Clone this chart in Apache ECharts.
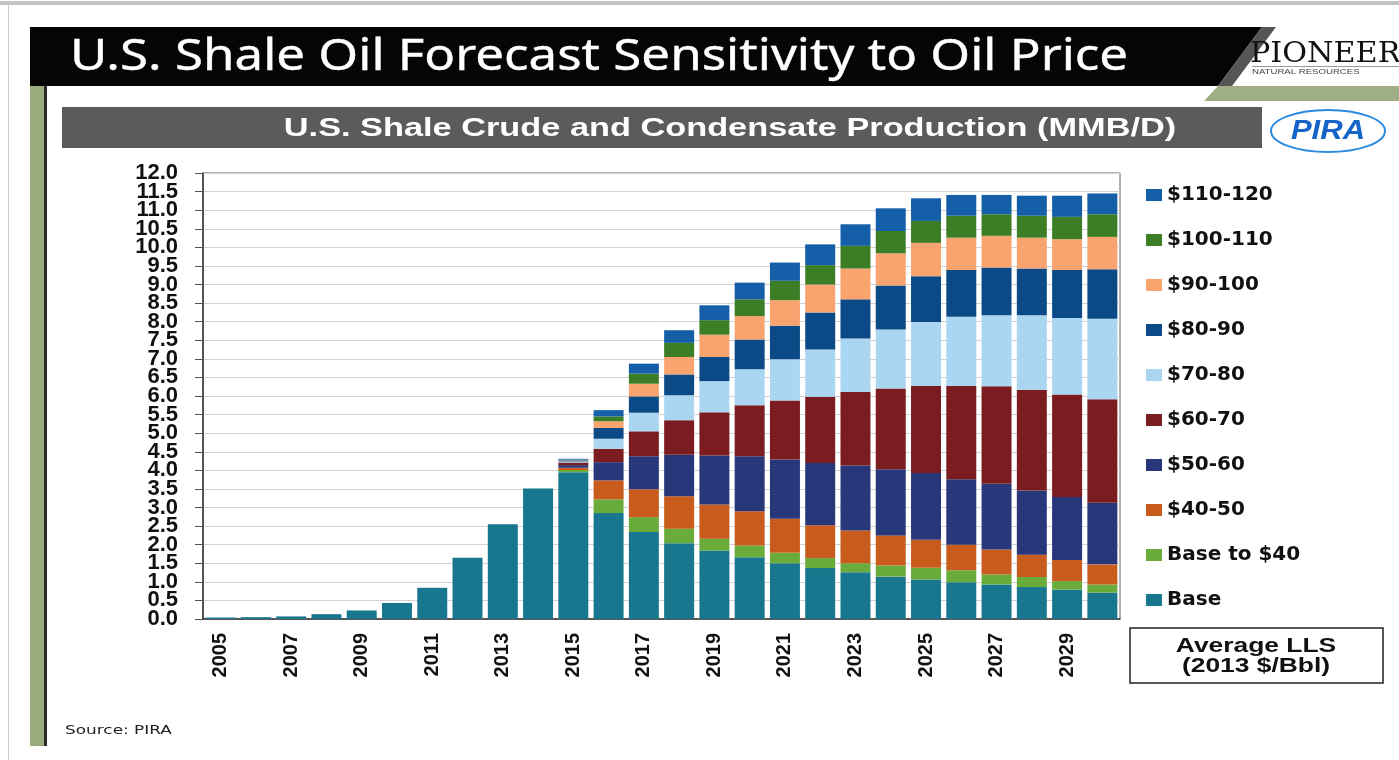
<!DOCTYPE html>
<html>
<head>
<meta charset="utf-8">
<title>U.S. Shale Oil Forecast Sensitivity to Oil Price</title>
<script src="https://cdn.jsdelivr.net/npm/echarts@6/dist/echarts.min.js"></script>
<style>
  html, body { margin: 0; padding: 0; background: #fff; }
  #main { width: 1399px; height: 760px; }
</style>
</head>
<body>
<div id="main"></div>
<script>
// years on the x axis
var years = ['2005','2006','2007','2008','2009','2010','2011','2012','2013','2014','2015','2016','2017',
             '2018','2019','2020','2021','2022','2023','2024','2025','2026','2027','2028','2029','2030'];

// y tick labels, 0 to 12 by 0.5
var yTickLabels = ['0.0','0.5','1.0','1.5','2.0','2.5','3.0','3.5','4.0','4.5','5.0','5.5','6.0',
                   '6.5','7.0','7.5','8.0','8.5','9.0','9.5','10.0','10.5','11.0','11.5','12.0'];

// production by price band, MMB/D
var base      = [0.04,0.05,0.07,0.13,0.23,0.43,0.84,1.65,2.55,3.51,3.95,2.85,2.34,2.04,1.84,1.66,1.50,1.37,1.26,1.14,1.06,0.99,0.93,0.86,0.79,0.71];
var baseTo40  = [0,0,0,0,0,0,0,0,0,0,0.06,0.37,0.40,0.39,0.32,0.32,0.28,0.27,0.24,0.30,0.32,0.32,0.27,0.27,0.23,0.22];
var p40to50   = [0,0,0,0,0,0,0,0,0,0,0.06,0.51,0.75,0.87,0.92,0.92,0.92,0.88,0.88,0.81,0.75,0.69,0.67,0.60,0.57,0.54];
var p50to60   = [0,0,0,0,0,0,0,0,0,0,0.07,0.49,0.89,1.12,1.32,1.48,1.59,1.68,1.75,1.78,1.80,1.76,1.77,1.73,1.69,1.66];
var p60to70   = [0,0,0,0,0,0,0,0,0,0,0.07,0.36,0.67,0.93,1.16,1.37,1.59,1.78,1.98,2.17,2.34,2.51,2.62,2.71,2.76,2.78];
var p70to80   = [0,0,0,0,0,0,0,0,0,0,0.03,0.27,0.50,0.67,0.84,0.97,1.11,1.27,1.44,1.59,1.72,1.86,1.91,2.00,2.06,2.17];
var p80to90   = [0,0,0,0,0,0,0,0,0,0,0.03,0.29,0.44,0.56,0.65,0.80,0.90,1.00,1.05,1.18,1.23,1.26,1.29,1.26,1.29,1.33];
var p90to100  = [0,0,0,0,0,0,0,0,0,0,0.01,0.18,0.34,0.47,0.60,0.63,0.69,0.75,0.83,0.87,0.90,0.87,0.85,0.83,0.83,0.87];
var p100to110 = [0,0,0,0,0,0,0,0,0,0,0.01,0.13,0.27,0.38,0.39,0.45,0.52,0.52,0.61,0.60,0.59,0.59,0.58,0.59,0.60,0.61];
var p110to120 = [0,0,0,0,0,0,0,0,0,0,0.02,0.17,0.27,0.34,0.40,0.45,0.49,0.56,0.58,0.61,0.61,0.56,0.52,0.54,0.57,0.56];

// bottom to top
var bands = [
  { name: 'Base',          data: base,      color: '#18778f' },
  { name: 'Base to $40',   data: baseTo40,  color: '#6aac3b' },
  { name: '$40-50',        data: p40to50,   color: '#c95b1c' },
  { name: '$50-60',        data: p50to60,   color: '#28367a' },
  { name: '$60-70',        data: p60to70,   color: '#7b1c20' },
  { name: '$70-80',        data: p70to80,   color: '#abd6f2' },
  { name: '$80-90',        data: p80to90,   color: '#0c4a87' },
  { name: '$90-100',       data: p90to100,  color: '#f9a36f' },
  { name: '$100-110',      data: p100to110, color: '#3c7e26' },
  { name: '$110-120',      data: p110to120, color: '#155fa8' }
];

var myChart = echarts.init(document.getElementById('main'));

var series = bands.map(function (b) {
  return {
    name: b.name,
    type: 'bar',
    stack: 'total',
    yAxisIndex: 0,
    barCategoryGap: '15%',
    itemStyle: { color: b.color },
    data: b.data
  };
});

myChart.setOption({
  animation: false,
  backgroundColor: '#fff',
  grid: { left: 203, right: 279, top: 173, bottom: 141, show: true, borderColor: '#666', borderWidth: 1 },
  legend: {
    orient: 'vertical',
    left: 1141,
    top: 180,
    itemWidth: 16,
    itemHeight: 12,
    itemGap: 25,
    icon: 'rect',
    data: bands.map(function (b) { return b.name; }).reverse(),
    textStyle: { fontFamily: 'DejaVu Sans', fontWeight: 'bold', fontSize: 20, color: '#111', lineHeight: 20 }
  },
  xAxis: {
    type: 'category',
    data: years,
    axisLine: { lineStyle: { color: '#333', width: 1.5 } },
    axisTick: { interval: 0, length: 5, lineStyle: { color: '#777' } },
    axisLabel: {
      interval: 1,
      rotate: 90,
      margin: 14,
      fontFamily: 'Liberation Sans',
      fontWeight: 'bold',
      fontSize: 20,
      color: '#111'
    }
  },
  yAxis: [
    {
      // value scale for the bars
      type: 'value',
      min: 0,
      max: 12,
      interval: 0.5,
      axisLine: { show: true, lineStyle: { color: '#333', width: 1.5 } },
      axisTick: { show: true, length: 8, lineStyle: { color: '#555' } },
      splitLine: { lineStyle: { color: '#d2d2d2' } },
      axisLabel: { show: false }
    },
    {
      // tick labels only, every 0.5 (all shown, tightly packed like the original)
      type: 'category',
      position: 'left',
      boundaryGap: false,
      data: yTickLabels,
      axisLine: { show: false },
      axisTick: { show: false },
      splitLine: { show: false },
      axisLabel: {
        interval: 0,
        margin: 25,
        fontFamily: 'Liberation Sans',
        fontWeight: 'bold',
        fontSize: 22,
        color: '#111'
      }
    }
  ],
  series: series,
  graphic: [
    // page frame bits
    { type: 'rect', shape: { x: 0, y: 1, width: 1399, height: 4 }, style: { fill: '#c4c4c4' } },
    { type: 'rect', shape: { x: 8, y: 5, width: 1, height: 755 }, style: { fill: '#d0d0d0' } },
    // black title banner
    { type: 'polygon', shape: { points: [[30, 27], [1262, 27], [1218, 86], [30, 86]] }, style: { fill: '#050505' } },
    { type: 'polygon', shape: { points: [[1262, 27], [1276, 27], [1232, 86], [1218, 86]] }, style: { fill: '#555' } },
    { type: 'polygon', shape: { points: [[1218, 86], [1399, 86], [1399, 101], [1204, 101]] }, style: { fill: '#9fae84' } },
    { type: 'text', x: 70, y: 57, scaleX: 1.16, style: { text: 'U.S. Shale Oil Forecast Sensitivity to Oil Price', fill: '#fff',
      stroke: '#fff', lineWidth: 0.4, font: '44px "Noto Sans"', textVerticalAlign: 'middle' } },
    // left olive bar
    { type: 'rect', shape: { x: 30, y: 86, width: 14, height: 660 }, style: { fill: '#9aab7c' } },
    { type: 'rect', shape: { x: 44, y: 86, width: 3, height: 660 }, style: { fill: '#2a2a2a' } },
    // subtitle banner
    { type: 'rect', shape: { x: 62, y: 107, width: 1200, height: 41 }, style: { fill: '#5b5b5b' } },
    { type: 'text', x: 730, y: 129, scaleX: 1.32, style: { text: 'U.S. Shale Crude and Condensate Production (MMB/D)', fill: '#fff',
      font: 'bold 26px "Liberation Sans"', textAlign: 'center', textVerticalAlign: 'middle' } },
    // Pioneer logo
    { type: 'text', x: 1250, y: 55, scaleX: 1.12, style: { text: 'PIONEER', fill: '#111', font: '27px "DejaVu Serif"', textVerticalAlign: 'middle' } },
    { type: 'rect', shape: { x: 1252, y: 66, width: 147, height: 1 }, style: { fill: '#999' } },
    { type: 'text', x: 1252, y: 72, scaleX: 1.2, style: { text: 'NATURAL RESOURCES', fill: '#444', font: '8px "Liberation Sans"', textVerticalAlign: 'middle' } },
    // PIRA logo
    { type: 'ellipse', shape: { cx: 1328, cy: 131, rx: 57, ry: 21 }, style: { fill: '#fff', stroke: '#2a8be0', lineWidth: 2 } },
    { type: 'text', x: 1328, y: 132, scaleX: 1.15, style: { text: 'PIRA', fill: '#1565c8', font: 'italic bold 27px "Liberation Sans"',
      textAlign: 'center', textVerticalAlign: 'middle' } },
    // legend caption box
    { type: 'rect', shape: { x: 1130, y: 628, width: 253, height: 55 }, style: { fill: '#fff', stroke: '#222', lineWidth: 1.5 } },
    { type: 'text', x: 1256, y: 646, scaleX: 1.32, style: { text: 'Average LLS', fill: '#111', font: 'bold 20px "Liberation Sans"',
      textAlign: 'center', textVerticalAlign: 'middle' } },
    { type: 'text', x: 1256, y: 666, scaleX: 1.32, style: { text: '(2013 $/Bbl)', fill: '#111', font: 'bold 20px "Liberation Sans"',
      textAlign: 'center', textVerticalAlign: 'middle' } },
    // source
    { type: 'text', x: 65, y: 731, scaleX: 1.3, style: { text: 'Source: PIRA', fill: '#222', font: '13px "DejaVu Sans"', textVerticalAlign: 'middle' } }
  ]
});
</script>
</body>
</html>
